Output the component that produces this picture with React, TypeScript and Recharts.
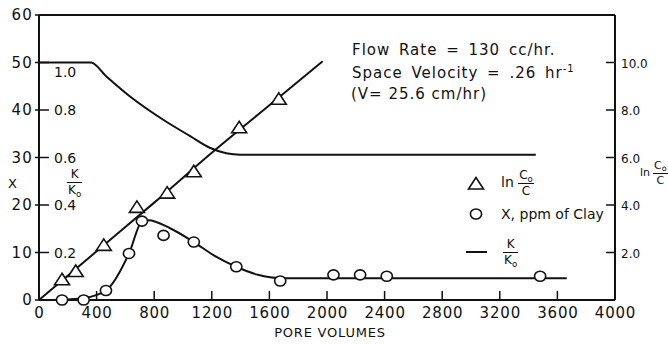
import React from 'react';
import { ComposedChart, Line, Scatter, XAxis, YAxis, Legend } from 'recharts';

// axis ticks
const poreTicks = [0, 400, 800, 1200, 1600, 2000, 2400, 2800, 3200, 3600, 4000];
const clayTicks = [0, 10, 20, 30, 40, 50, 60];
const kTicks = [0.2, 0.4, 0.6, 0.8, 1.0];
const lnTicks = [2, 4, 6, 8, 10];

// ln(Co/C) measured points (triangles)
const lnPoreVolumes = [160, 255, 450, 680, 890, 1075, 1390, 1665];
const lnValues = [0.85, 1.2, 2.3, 3.9, 4.5, 5.4, 7.25, 8.45];
// ln(Co/C) drawn curve
const lnCurvePV = [0, 400, 800, 1200, 1600, 1970];
const lnCurve = [0, 2.05, 4.1, 6.2, 8.2, 10.05];

// X, ppm of clay measured points (circles)
const clayPoreVolumes = [160, 310, 465, 625, 715, 865, 1075, 1370, 1675, 2045, 2230, 2415, 3480];
const clayValues = [0, 0, 2.0, 9.8, 16.6, 13.6, 12.2, 7.0, 4.0, 5.3, 5.3, 5.0, 5.0];
// clay drawn curve
const clayCurvePV = [0, 160, 310, 465, 625, 715, 760, 910, 1075, 1220, 1370, 1520, 1680, 3665];
const clayCurve = [0, 0.05, 0.4, 2.0, 9.8, 16.5, 16.8, 15.1, 12.2, 9.3, 7.0, 5.3, 4.6, 4.6];

// K/Ko curve
const kCurvePV = [0, 360, 470, 630, 860, 1050, 1190, 1300, 1400, 3450];
const kCurve = [1.0, 1.0, 0.94, 0.858, 0.76, 0.69, 0.64, 0.618, 0.612, 0.612];

const lnPoints = lnPoreVolumes.map((pv, i) => ({ pv, ln: lnValues[i] }));
const lnLine = lnCurvePV.map((pv, i) => ({ pv, ln: lnCurve[i] }));
const clayPoints = clayPoreVolumes.map((pv, i) => ({ pv, x: clayValues[i] }));
const clayLine = clayCurvePV.map((pv, i) => ({ pv, x: clayCurve[i] }));
const kLine = kCurvePV.map((pv, i) => ({ pv, k: kCurve[i] }));

const FONT = '"DejaVu Sans", sans-serif';
const INK = '#111';

const Triangle = (props: any) => {
  const { cx, cy } = props;
  return (
    <polygon
      points={`${cx},${cy - 6.5} ${cx - 7.5},${cy + 5} ${cx + 7.5},${cy + 5}`}
      fill="#fff"
      stroke={INK}
      strokeWidth={1.6}
    />
  );
};

const Circle = (props: any) => {
  const { cx, cy } = props;
  return <ellipse cx={cx} cy={cy} rx={5.6} ry={5} fill="#fff" stroke={INK} strokeWidth={1.6} />;
};

// bottom ticks: short inner mark + label below
const PoreTick = (props: any) => {
  const { x, y, payload } = props;
  return (
    <g>
      {payload.value > 0 && payload.value < 4000 && (
        <line x1={x} y1={y} x2={x} y2={y - 9} stroke={INK} strokeWidth={1.5} />
      )}
      <text x={x + 0.5} y={y + 18} textAnchor="middle" fontSize={15} letterSpacing={0.8} fontFamily={FONT} fill={INK}>
        {payload.value}
      </text>
    </g>
  );
};

const ClayTick = (props: any) => {
  const { x, y, payload } = props;
  return (
    <text x={x} y={y + 5} textAnchor="end" fontSize={15} letterSpacing={1.2} fontFamily={FONT} fill={INK}>
      {payload.value}
    </text>
  );
};

const KTick = (props: any) => {
  const { x, y, payload } = props;
  const top = payload.value >= 1;
  return (
    <text x={x} y={y + (top ? 14 : 5)} textAnchor="start" fontSize={14} fontFamily={FONT} fill={INK}>
      {payload.value.toFixed(1)}
    </text>
  );
};

const LnTick = (props: any) => {
  const { x, y, payload } = props;
  return (
    <g>
      <line x1={x - 9} y1={y} x2={x} y2={y} stroke={INK} strokeWidth={1.5} />
      <text x={x + 6} y={y + 5} textAnchor="start" fontSize={12} fontFamily={FONT} fill={INK}>
        {payload.value.toFixed(1)}
      </text>
    </g>
  );
};

const Sub = ({ base }: { base: string }) => (
  <span>
    {base}
    <span style={{ fontSize: '0.72em', position: 'relative', top: '0.3em' }}>o</span>
  </span>
);

const Frac = ({ top, bottom, size = 12 }: { top: React.ReactNode; bottom: React.ReactNode; size?: number }) => (
  <span
    style={{
      display: 'inline-flex',
      flexDirection: 'column',
      alignItems: 'center',
      fontSize: size,
      lineHeight: 1,
      verticalAlign: 'middle',
    }}
  >
    <span style={{ padding: '0 1px 2px' }}>{top}</span>
    <span style={{ borderTop: `1.5px solid ${INK}`, padding: '1px 1px 0', alignSelf: 'stretch', textAlign: 'center' }}>
      {bottom}
    </span>
  </span>
);

const LegendBox = () => (
  <div style={{ fontFamily: FONT, color: INK, fontSize: 14 }}>
    <div style={{ height: 30, display: 'flex', alignItems: 'center' }}>
      <svg width={30} height={16}>
        <Triangle cx={11} cy={9} />
      </svg>
      <span style={{ marginLeft: 6 }}>
        ln <Frac top={<Sub base="C" />} bottom="C" size={12} />
      </span>
    </div>
    <div style={{ height: 32, display: 'flex', alignItems: 'center' }}>
      <svg width={30} height={14}>
        <Circle cx={11} cy={7} />
      </svg>
      <span style={{ marginLeft: 6 }}>X, ppm of Clay</span>
    </div>
    <div style={{ height: 44, display: 'flex', alignItems: 'center' }}>
      <svg width={30} height={6}>
        <line x1={1} y1={3} x2={22} y2={3} stroke={INK} strokeWidth={2} />
      </svg>
      <span style={{ marginLeft: 8 }}>
        <Frac top="K" bottom={<Sub base="K" />} size={12} />
      </span>
    </div>
  </div>
);

const abs = (x: number, y: number, extra: React.CSSProperties = {}): React.CSSProperties => ({
  position: 'absolute',
  left: x,
  top: y,
  transform: 'translateY(-50%)',
  whiteSpace: 'nowrap',
  fontFamily: FONT,
  color: INK,
  ...extra,
});

export default function App() {
  return (
    <div style={{ position: 'absolute', left: 0, top: 0, width: 668, height: 345, background: '#fff', overflow: 'hidden' }}>
      <ComposedChart width={668} height={345} margin={{ top: 15, right: 0, bottom: 0, left: 0 }}>
        <XAxis
          dataKey="pv"
          type="number"
          domain={[0, 4000]}
          ticks={poreTicks}
          interval={0}
          height={45}
          tickSize={0}
          tickMargin={0}
          tickLine={false}
          axisLine={{ stroke: INK, strokeWidth: 2 }}
          tick={<PoreTick />}
        />
        <XAxis
          xAxisId="top"
          orientation="top"
          mirror
          type="number"
          domain={[0, 4000]}
          ticks={poreTicks.slice(1, -1)}
          tick={false}
          tickSize={7}
          tickLine={{ stroke: INK, strokeWidth: 1.5 }}
          axisLine={{ stroke: INK, strokeWidth: 2 }}
        />
        <YAxis
          yAxisId="x"
          orientation="left"
          width={39}
          type="number"
          domain={[0, 60]}
          ticks={clayTicks}
          interval={0}
          tickSize={4}
          tickMargin={2}
          tickLine={{ stroke: INK, strokeWidth: 1.5 }}
          axisLine={{ stroke: INK, strokeWidth: 2 }}
          tick={<ClayTick />}
        />
        <YAxis
          yAxisId="k"
          orientation="left"
          mirror
          type="number"
          domain={[0, 1.2]}
          ticks={kTicks}
          interval={0}
          tickSize={10}
          tickMargin={5}
          tickLine={{ stroke: INK, strokeWidth: 1.5 }}
          axisLine={false}
          tick={<KTick />}
        />
        <YAxis
          yAxisId="ln"
          orientation="right"
          width={53}
          type="number"
          domain={[0, 12]}
          ticks={lnTicks}
          interval={0}
          tickSize={0}
          tickMargin={0}
          tickLine={false}
          axisLine={{ stroke: INK, strokeWidth: 2 }}
          tick={<LnTick />}
        />
        <Legend
          layout="vertical"
          align="center"
          verticalAlign="middle"
          content={<LegendBox />}
          wrapperStyle={{ left: 465, top: 168, width: 170, height: 106 }}
        />
        <Line data={kLine} dataKey="k" yAxisId="k" type="monotone" dot={false} stroke={INK} strokeWidth={2} isAnimationActive={false} />
        <Line data={clayLine} dataKey="x" yAxisId="x" type="monotone" dot={false} stroke={INK} strokeWidth={2} isAnimationActive={false} />
        <Line data={lnLine} dataKey="ln" yAxisId="ln" type="monotone" dot={false} stroke={INK} strokeWidth={2} isAnimationActive={false} />
        <Scatter data={clayPoints} dataKey="x" yAxisId="x" shape={<Circle />} isAnimationActive={false} />
        <Scatter data={lnPoints} dataKey="ln" yAxisId="ln" shape={<Triangle />} isAnimationActive={false} />
      </ComposedChart>

      {/* axis titles */}
      <div style={abs(8, 183, { fontSize: 13 })}>X</div>
      <div style={abs(67, 182)}>
        <Frac top="K" bottom={<Sub base="K" />} size={12} />
      </div>
      <div style={abs(640, 173, { fontSize: 11 })}>
        ln<span style={{ marginLeft: 3 }}>
          <Frac top={<Sub base="C" />} bottom="C" size={11} />
        </span>
      </div>
      <div
        style={{
          position: 'absolute',
          left: 0,
          width: 668,
          top: 325,
          textAlign: 'center',
          fontFamily: FONT,
          fontSize: 13,
          letterSpacing: 0.8,
          color: INK,
        }}
      >
        <span style={{ position: 'relative', left: -4 }}>PORE VOLUMES</span>
      </div>

      {/* run conditions */}
      <div style={abs(352, 50, { fontSize: 15, letterSpacing: 1, wordSpacing: 3 })}>Flow Rate = 130 cc/hr.</div>
      <div style={abs(352, 72, { fontSize: 15, letterSpacing: 1, wordSpacing: 3 })}>
        Space Velocity = .26 hr<sup style={{ fontSize: 10 }}>-1</sup>
      </div>
      <div style={abs(351, 94, { fontSize: 15, letterSpacing: 1 })}>(V= 25.6 cm/hr)</div>
    </div>
  );
}
